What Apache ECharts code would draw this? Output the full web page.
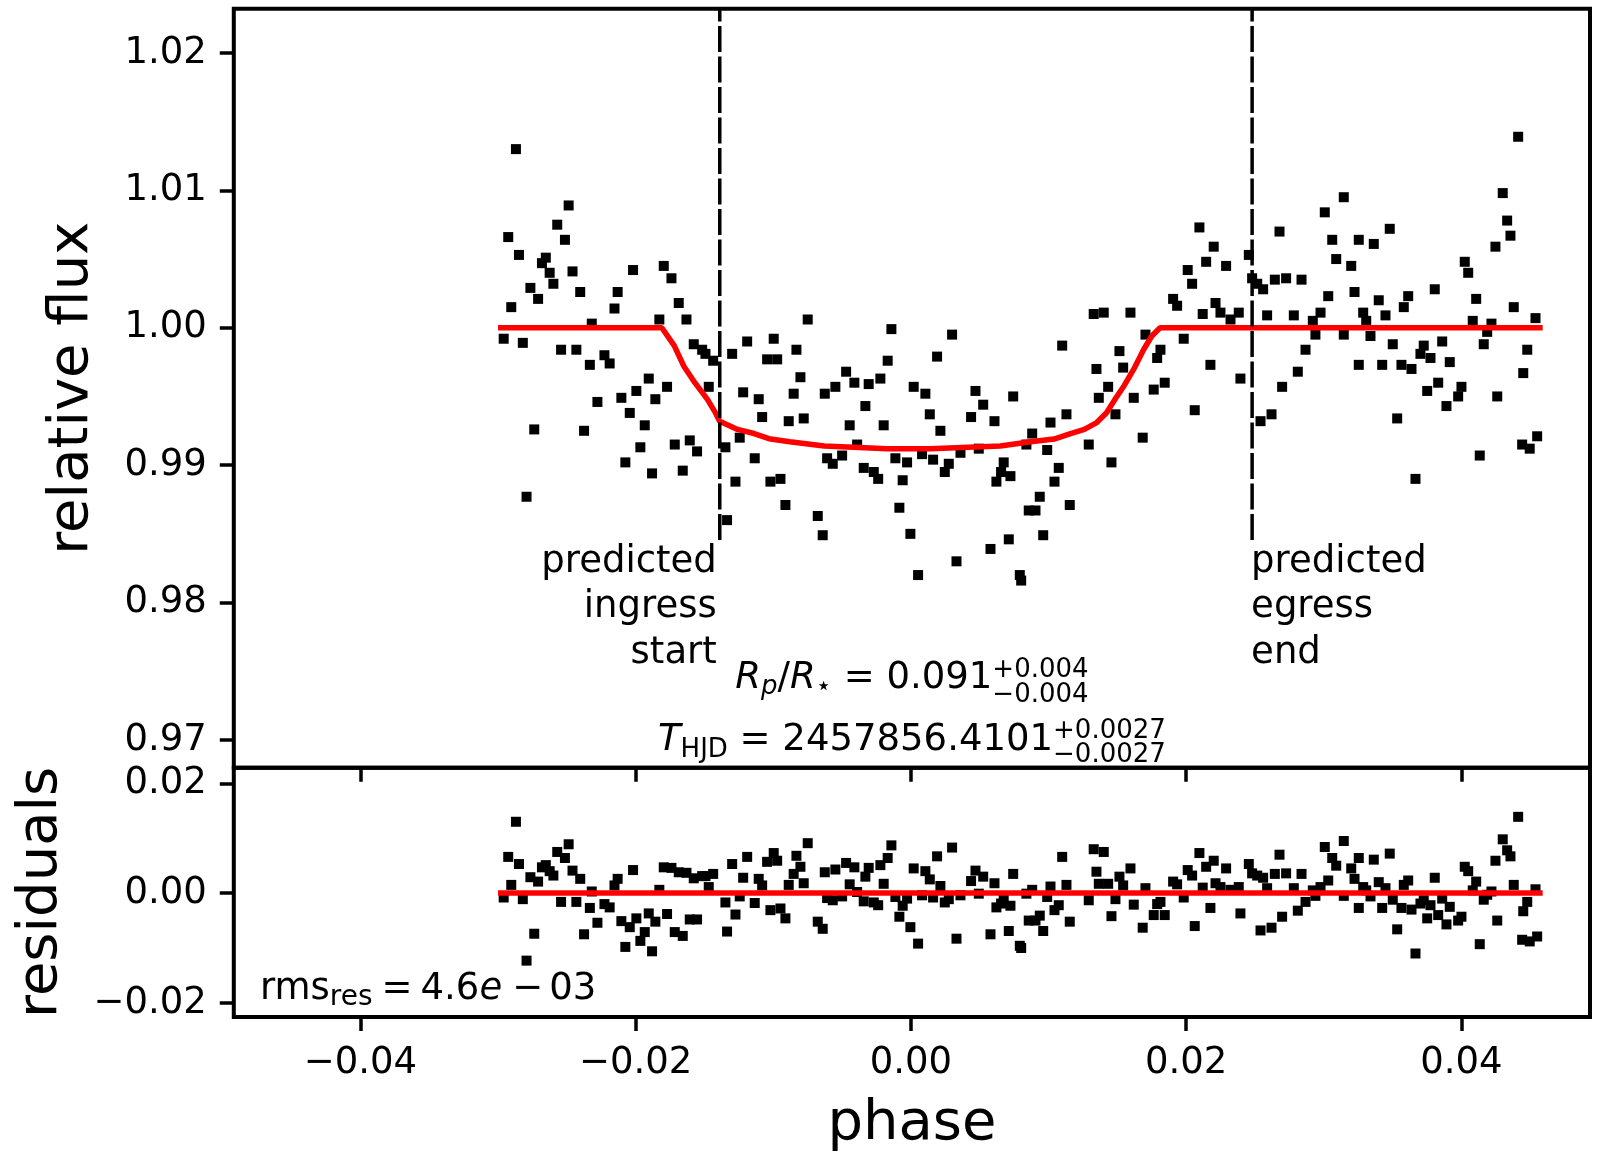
<!DOCTYPE html>
<html><head><meta charset="utf-8">
<script src="https://cdn.jsdelivr.net/npm/echarts@6/dist/echarts.min.js"></script>
<style>html,body{margin:0;padding:0;background:#fff}#c{width:1599px;height:1153px}</style>
</head><body><div id="c"></div>
<script>
// ---------------- data ----------------
const phase = [
-0.02959,-0.02926,-0.02904,-0.02870,-0.02848,-0.02820,-0.02793,-0.02765,-0.02737,-0.02709,
-0.02681,-0.02653,-0.02625,-0.02598,-0.02570,-0.02542,-0.02514,-0.02487,-0.02459,-0.02431,
-0.02403,-0.02375,-0.02333,-0.02319,-0.02278,-0.02227,-0.02189,-0.02154,-0.02131,-0.02104,
-0.02075,-0.02043,-0.02019,-0.01995,-0.01966,-0.01934,-0.01905,-0.01881,-0.01857,-0.01828,
-0.01796,-0.01772,-0.01740,-0.01716,-0.01687,-0.01658,-0.01631,-0.01607,-0.01578,-0.01554,
-0.01517,-0.01493,-0.01469,-0.01437,-0.01348,-0.01336,-0.01299,-0.01275,-0.01244,-0.01219,
-0.01190,-0.01135,-0.01106,-0.01081,-0.01045,-0.01021,-0.00997,-0.00972,-0.00948,-0.00912,
-0.00888,-0.00852,-0.00832,-0.00803,-0.00779,-0.00750,-0.00677,-0.00641,-0.00626,-0.00609,
-0.00568,-0.00549,-0.00500,-0.00471,-0.00445,-0.00411,-0.00391,-0.00343,-0.00331,-0.00307,
-0.00270,-0.00238,-0.00222,-0.00198,-0.00169,-0.00142,-0.00113,-0.00084,-0.00060,-0.00028,
-0.00004,0.00020,0.00052,0.00081,0.00105,0.00137,0.00161,0.00190,0.00214,0.00246,
0.00275,0.00299,0.00331,0.00360,0.00437,0.00469,0.00493,0.00525,0.00578,0.00607,
0.00621,0.00655,0.00674,0.00711,0.00723,0.00743,0.00791,0.00801,0.00839,0.00856,
0.00881,0.00905,0.00936,0.00961,0.00990,0.01014,0.01043,0.01074,0.01099,0.01130,
0.01154,0.01292,0.01328,0.01348,0.01365,0.01401,0.01433,0.01457,0.01486,0.01515,
0.01542,0.01595,0.01619,0.01684,0.01704,0.01764,0.01789,0.01813,0.01844,0.01905,
0.01934,0.01982,0.02011,0.02043,0.02062,0.02096,0.02120,0.02145,0.02176,0.02200,
0.02213,0.02249,0.02290,0.02322,0.02382,0.02394,0.02455,0.02479,0.02516,0.02540,
0.02559,0.02588,0.02620,0.02644,0.02678,0.02697,0.02726,0.02782,0.02811,0.02838,
0.02867,0.02920,0.02939,0.02976,0.03007,0.03032,0.03061,0.03090,0.03145,0.03145,
0.03199,0.03223,0.03254,0.03254,0.03286,0.03308,0.03339,0.03363,0.03399,0.03424,
0.03448,0.03479,0.03501,0.03533,0.03564,0.03581,0.03613,0.03637,0.03666,0.03702,
0.03726,0.03751,0.03775,0.03806,0.03831,0.03860,0.03891,0.03915,0.03976,0.04000,
0.04024,0.04049,0.04082,0.04107,0.04133,0.04162,0.04187,0.04218,0.04247,0.04260,
0.04300,0.04332,0.04356,0.04380,0.04412,0.04441,0.04449,0.04478,0.04496,0.04538,
0.04550];

const relFlux = [
0.9992,1.0066,1.0015,1.0130,1.0053,0.9989,0.9877,1.0029,0.9926,1.0021,
1.0047,1.0051,1.0040,1.0032,1.0075,0.9984,1.0064,1.0089,1.0041,0.9984,
1.0026,0.9925,0.9973,1.0003,0.9946,0.9980,0.9974,1.0014,1.0026,0.9949,
0.9902,0.9938,1.0042,0.9954,0.9913,0.9929,0.9963,0.9894,0.9948,1.0006,
1.0045,0.9957,1.0036,0.9915,1.0018,0.9896,1.0006,0.9918,0.9988,0.9910,
0.9984,0.9981,0.9957,0.9976,0.9913,0.9860,0.9981,0.9888,0.9920,0.9953,
0.9990,0.9905,0.9948,0.9935,0.9977,0.9888,0.9992,0.9977,0.9890,0.9871,
0.9932,0.9952,0.9984,0.9964,0.9934,1.0006,0.9863,0.9849,0.9952,0.9905,
0.9901,0.9957,0.9907,0.9968,0.9929,0.9960,0.9915,0.9898,0.9943,0.9959,
0.9895,0.9890,0.9963,0.9929,0.9976,0.9999,0.9905,0.9869,0.9889,0.9902,
0.9850,0.9957,0.9820,0.9908,0.9952,0.9937,0.9904,0.9979,0.9925,0.9895,
0.9901,0.9995,0.9830,0.9909,0.9935,0.9954,0.9912,0.9944,0.9839,0.9932,
0.9888,0.9895,0.9902,0.9846,0.9892,0.9950,0.9820,0.9816,0.9915,0.9867,
0.9923,0.9867,0.9877,0.9849,0.9911,0.9931,0.9888,0.9898,0.9987,0.9937,
0.9871,0.9915,1.0010,0.9970,0.9949,1.0011,0.9957,0.9902,0.9937,0.9983,
0.9971,1.0011,0.9949,0.9920,0.9995,0.9955,0.9978,0.9984,0.9960,1.0021,
1.0016,0.9992,1.0042,1.0032,0.9940,1.0073,1.0010,1.0048,0.9973,1.0059,
1.0018,1.0011,1.0045,1.0006,1.0011,0.9963,1.0053,1.0036,1.0032,0.9932,
1.0028,1.0009,0.9937,1.0035,1.0070,0.9957,1.0036,1.0009,0.9968,1.0035,
0.9984,1.0005,0.9995,1.0011,1.0084,1.0023,1.0064,1.0050,1.0095,0.9995,
1.0045,1.0026,1.0064,0.9973,1.0011,1.0005,0.9994,1.0061,1.0020,0.9973,
1.0009,1.0072,0.9988,0.9934,0.9973,1.0015,1.0023,0.9970,0.9890,0.9981,
0.9987,0.9954,0.9978,1.0028,0.9960,0.9990,0.9943,0.9975,0.9950,0.9957,
1.0048,1.0040,1.0005,1.0021,0.9907,0.9988,0.9997,1.0003,1.0059,0.9950,
1.0098,1.0078,1.0067,1.0015,1.0139,0.9915,0.9967,0.9984,0.9912,1.0007,
0.9921];

const residuals = [
-0.0008,0.0066,0.0015,0.0130,0.0053,-0.0011,-0.0123,0.0029,-0.0074,0.0021,
0.0047,0.0051,0.0040,0.0032,0.0075,-0.0016,0.0064,0.0089,0.0041,-0.0016,
0.0026,-0.0075,-0.0027,0.0003,-0.0054,-0.0020,-0.0026,0.0014,0.0026,-0.0051,
-0.0098,-0.0062,0.0042,-0.0046,-0.0087,-0.0071,-0.0037,-0.0106,-0.0052,0.0006,
0.0047,-0.0038,0.0046,-0.0071,0.0038,-0.0078,0.0037,-0.0048,0.0027,-0.0048,
0.0031,0.0031,0.0011,0.0035,-0.0017,-0.0070,0.0053,-0.0039,-0.0006,0.0028,
0.0066,-0.0018,0.0026,0.0014,0.0057,-0.0031,0.0073,0.0059,-0.0028,-0.0046,
0.0015,0.0035,0.0068,0.0048,0.0018,0.0091,-0.0052,-0.0065,0.0038,-0.0009,
-0.0013,0.0043,-0.0006,0.0055,0.0016,0.0047,0.0002,-0.0015,0.0030,0.0046,
-0.0017,-0.0022,0.0051,0.0017,0.0064,0.0087,-0.0007,-0.0043,-0.0023,-0.0010,
-0.0062,0.0045,-0.0092,-0.0004,0.0040,0.0025,-0.0008,0.0067,0.0013,-0.0017,
-0.0011,0.0083,-0.0083,-0.0004,0.0022,0.0041,-0.0001,0.0030,-0.0075,0.0018,
-0.0026,-0.0019,-0.0012,-0.0069,-0.0023,0.0035,-0.0096,-0.0100,-0.0001,-0.0050,
0.0006,-0.0050,-0.0041,-0.0069,-0.0007,0.0012,-0.0031,-0.0022,0.0066,0.0015,
-0.0052,-0.0013,0.0080,0.0039,0.0017,0.0075,0.0017,-0.0042,-0.0011,0.0030,
0.0014,0.0045,-0.0021,-0.0063,0.0009,-0.0040,-0.0020,-0.0016,-0.0040,0.0021,
0.0016,-0.0008,0.0042,0.0032,-0.0060,0.0073,0.0010,0.0048,-0.0027,0.0059,
0.0018,0.0011,0.0045,0.0006,0.0011,-0.0037,0.0053,0.0036,0.0032,-0.0068,
0.0028,0.0009,-0.0063,0.0035,0.0070,-0.0043,0.0036,0.0009,-0.0032,0.0035,
-0.0016,0.0005,-0.0005,0.0011,0.0084,0.0023,0.0064,0.0050,0.0095,-0.0005,
0.0045,0.0026,0.0064,-0.0027,0.0011,0.0005,-0.0006,0.0061,0.0020,-0.0027,
0.0009,0.0072,-0.0012,-0.0066,-0.0027,0.0015,0.0023,-0.0030,-0.0110,-0.0019,
-0.0013,-0.0046,-0.0022,0.0028,-0.0040,-0.0010,-0.0057,-0.0025,-0.0050,-0.0043,
0.0048,0.0040,0.0005,0.0021,-0.0093,-0.0012,-0.0003,0.0003,0.0059,-0.0050,
0.0098,0.0078,0.0067,0.0015,0.0139,-0.0085,-0.0033,-0.0016,-0.0088,0.0007,
-0.0079];

const modelPhase = [-0.0300,-0.0181,-0.0172,-0.0165,-0.0157,-0.0148,-0.0142,-0.0139,-0.0126,-0.0114,
  -0.0102,-0.0088,-0.0063,-0.0017,0.0014,0.0065,0.0087,0.0104,0.0116,0.0126,
  0.0135,0.0142,0.0149,0.0155,0.0162,0.0169,0.0175,0.0181,0.0459];
const modelFlux = [1.0000,1.0000,0.9987,0.9972,0.9960,0.9948,0.9938,0.9932,0.9926,0.9923,
  0.9919,0.9917,0.9914,0.9912,0.9912,0.9914,0.9917,0.9919,0.9923,0.9926,
  0.9931,0.9938,0.9949,0.9958,0.9970,0.9984,0.9994,1.0000,1.0000];
const residModelPhase = [-0.0300, 0.0459];
const residModelValue = [0, 0];

const predictedPhases = [-0.01389, 0.02479];   // ingress start, egress end
const predictedLabels = ['predicted\ningress\nstart', 'predicted\negress\nend'];

const phaseTicks = [-0.04, -0.02, 0.00, 0.02, 0.04];
const fluxTicks = [0.97, 0.98, 0.99, 1.00, 1.01, 1.02];
const residTicks = [-0.02, 0.00, 0.02];

// ---------------- chart ----------------
const FF = '"DejaVu Sans", sans-serif';
const X_MIN = -0.04920, X_MAX = 0.04934;
const F_MIN = 0.96798, F_MAX = 1.02322;
const R_MIN = -0.02257, R_MAX = 0.02285;
const DASH_FRAC = 0.30;
const dashBottom = F_MIN + DASH_FRAC * (F_MAX - F_MIN);

const fmt2 = v => (v < -1e-9 ? '\u2212' : '') + Math.abs(v).toFixed(2);

const tickStyle = { color: '#000', width: 3.5 };
const labelStyle = { color: '#000', fontSize: 37, fontFamily: FF };
const nameStyle = { color: '#000', fontSize: 56, fontFamily: FF };
const noLine = { show: false, onZero: false };

const chart = echarts.init(document.getElementById('c'), null, { renderer: 'canvas' });

const option = {
  animation: false,
  backgroundColor: '#fff',
  grid: [
    { left: 233.8, right: 9, top: 8.7, height: 759, show: true, borderColor: '#000', borderWidth: 4, backgroundColor: 'transparent' },
    { left: 233.8, right: 9, top: 767.7, height: 250.6, show: true, borderColor: '#000', borderWidth: 4, backgroundColor: 'transparent' }
  ],
  xAxis: [
    { type: 'value', gridIndex: 0, min: X_MIN, max: X_MAX, position: 'bottom',
      axisLine: noLine, splitLine: { show: false },
      axisTick: { show: true, length: 14, inside: false, lineStyle: tickStyle, customValues: phaseTicks },
      axisLabel: { show: false, customValues: phaseTicks } },
    { type: 'value', gridIndex: 1, min: X_MIN, max: X_MAX, position: 'bottom',
      axisLine: noLine, splitLine: { show: false },
      axisTick: { show: true, length: 14, inside: false, lineStyle: tickStyle, customValues: phaseTicks },
      axisLabel: Object.assign({ show: true, margin: 28, customValues: phaseTicks, formatter: fmt2 }, labelStyle),
      name: 'phase', nameLocation: 'middle', nameGap: 79, nameTextStyle: nameStyle }
  ],
  yAxis: [
    { type: 'value', gridIndex: 0, min: F_MIN, max: F_MAX, position: 'left',
      axisLine: noLine, splitLine: { show: false },
      axisTick: { show: true, length: 14, inside: false, lineStyle: tickStyle, customValues: fluxTicks },
      axisLabel: Object.assign({ show: true, margin: 27, customValues: fluxTicks, formatter: v => v.toFixed(2) }, labelStyle),
      name: 'relative flux', nameLocation: 'middle', nameGap: 133, nameTextStyle: nameStyle },
    { type: 'value', gridIndex: 1, min: R_MIN, max: R_MAX, position: 'left',
      axisLine: noLine, splitLine: { show: false },
      axisTick: { show: true, length: 14, inside: false, lineStyle: tickStyle, customValues: residTicks },
      axisLabel: Object.assign({ show: true, margin: 27, customValues: residTicks, formatter: fmt2 }, labelStyle),
      name: 'residuals', nameLocation: 'middle', nameGap: 164, nameTextStyle: nameStyle }
  ],
  series: [
    { type: 'scatter', xAxisIndex: 0, yAxisIndex: 0, symbol: 'rect', symbolSize: 10, silent: true, z: 2,
      itemStyle: { color: '#000', opacity: 1 }, data: phase.map((p, i) => [p, relFlux[i]]) },
    { type: 'line', xAxisIndex: 0, yAxisIndex: 0, showSymbol: false, symbol: 'none', silent: true, z: 3,
      lineStyle: { color: '#ff0000', width: 5.5, opacity: 1 }, data: modelPhase.map((p, i) => [p, modelFlux[i]]) },
    ...predictedPhases.map(p => ({
      type: 'line', xAxisIndex: 0, yAxisIndex: 0, showSymbol: false, symbol: 'none', silent: true, z: 4,
      lineStyle: { color: '#000', width: 3.5, type: [26, 4.5], opacity: 1 }, data: [[p, dashBottom], [p, F_MAX]] })),
    { type: 'scatter', xAxisIndex: 1, yAxisIndex: 1, symbol: 'rect', symbolSize: 10, silent: true, z: 2,
      itemStyle: { color: '#000', opacity: 1 }, data: phase.map((p, i) => [p, residuals[i]]) },
    { type: 'line', xAxisIndex: 1, yAxisIndex: 1, showSymbol: false, symbol: 'none', silent: true, z: 3,
      lineStyle: { color: '#ff0000', width: 5.5, opacity: 1 }, data: residModelPhase.map((p, i) => [p, residModelValue[i]]) }
  ]
};
chart.setOption(option);

// ---------------- annotations (positioned through the axes) ----------------
const mc = document.createElement('canvas').getContext('2d');
function fontStr(size, italic) { return (italic ? 'italic ' : '') + 'normal ' + size + 'px ' + FF; }
function tw(t, size, italic) { mc.font = fontStr(size, italic); return mc.measureText(t).width; }
function midOff(size) {
  mc.font = fontStr(size, false);
  mc.textBaseline = 'middle';
  const a = mc.measureText('H').actualBoundingBoxDescent;
  mc.textBaseline = 'alphabetic';
  const b = mc.measureText('H').actualBoundingBoxDescent;
  const d = a - b;
  return (isFinite(d) && d > 0) ? d : 0.346 * size;
}
function txt(t, x, baseline, size, italic) {
  return { type: 'text', x: x, y: baseline - midOff(size), silent: true, z: 100,
    style: { text: t, fill: '#000', fontSize: size, fontFamily: FF, fontStyle: italic ? 'italic' : 'normal',
             align: 'left', verticalAlign: 'middle' } };
}
function composeMath(parts, anchorX, baseY, align) {
  let w = 0;
  const items = parts.map(p => {
    let ww;
    if (p.g !== undefined) ww = p.g;
    else if (p.stack) ww = Math.max(tw(p.stack[0], p.s, false), tw(p.stack[1], p.s, false));
    else ww = tw(p.t, p.s, p.it);
    w += ww;
    return Object.assign({ w: ww }, p);
  });
  let x = align === 'center' ? anchorX - w / 2 : anchorX;
  const els = [];
  items.forEach(it => {
    if (it.g !== undefined) { /* gap only */ }
    else if (it.stack) {
      els.push(txt(it.stack[0], x, baseY + it.up, it.s, false));
      els.push(txt(it.stack[1], x, baseY + it.down, it.s, false));
    } else {
      els.push(txt(it.t, x, baseY + (it.dy || 0), it.s, it.it));
    }
    x += it.w;
  });
  return els;
}
const px = (gi, x, y) => chart.convertToPixel({ gridIndex: gi }, [x, y]);

const els = [];
const midX = (X_MIN + X_MAX) / 2;
// predicted ingress / egress labels
const LH = 45.3;
predictedPhases.forEach((p, i) => {
  const pt = px(0, p, dashBottom);
  const base1 = pt[1] + 32;
  els.push({ type: 'text', x: i === 0 ? pt[0] - 3 : pt[0] - 1, y: base1 - LH / 2 - midOff(37), silent: true, z: 100,
    style: { text: predictedLabels[i], fill: '#000', fontSize: 37, fontFamily: FF, lineHeight: LH,
             align: i === 0 ? 'right' : 'left', verticalAlign: 'top' } });
});
// Rp/R* text
const rpBase = px(0, midX, 0.97378);
els.push(...composeMath([
  { t: 'R', s: 37, it: true },
  { t: 'p', s: 26, it: true, dy: 6 },
  { t: '/', s: 37 },
  { t: 'R', s: 37, it: true },
  { t: '\u22c6', s: 26, dy: 6 },
  { t: ' = 0.091', s: 37 },
  { stack: ['+0.004', '\u22120.004'], s: 26, up: -11, down: 14 }
], rpBase[0], rpBase[1], 'center'));
// T_HJD text
const tBase = px(0, midX, 0.96927);
els.push(...composeMath([
  { t: 'T', s: 37, it: true },
  { t: 'HJD', s: 26, dy: 7 },
  { t: ' = 2457856.4101', s: 37 },
  { stack: ['+0.0027', '\u22120.0027'], s: 26, up: -12, down: 12 }
], tBase[0], tBase[1], 'center'));
// rms text
const rmsBase = px(1, X_MIN + 0.0193 * (X_MAX - X_MIN), -0.01938);
els.push(...composeMath([
  { t: 'rms', s: 37 },
  { t: 'res', s: 28, dy: 6 },
  { g: 9 },
  { t: '=', s: 37 },
  { g: 8 },
  { t: '4.6', s: 37 },
  { t: 'e', s: 37, it: true },
  { g: 10 },
  { t: '\u2212', s: 37 },
  { g: 6 },
  { t: '03', s: 37 }
], rmsBase[0], rmsBase[1], 'left'));

chart.setOption({ graphic: els });
</script>
</body></html>
